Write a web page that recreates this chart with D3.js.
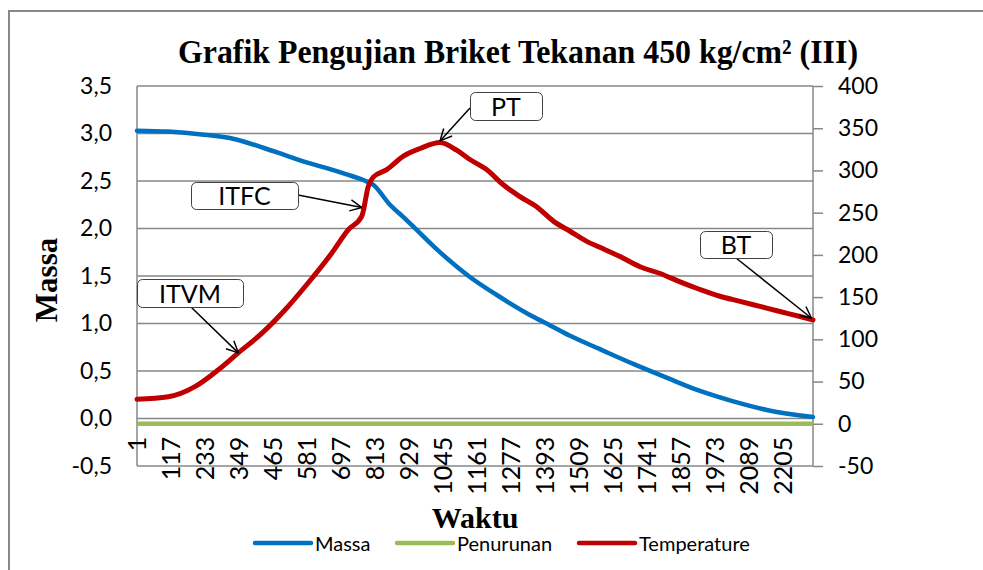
<!DOCTYPE html>
<html>
<head>
<meta charset="utf-8">
<script src="https://cdn.jsdelivr.net/npm/d3@7"></script>
<style>
  body { margin: 0; background: #fff; }
  svg { display: block; }
</style>
</head>
<body>
<script>
// Data
const lastIdx = 2310;

const massaIdx = [1, 108, 222, 336, 432, 518, 586, 649, 717, 774, 808, 865, 911, 945, 1029, 1138, 1230, 1343, 1412, 1480, 1582, 1696, 1810, 1924, 2038, 2152, 2310];
const massaVal = [3.03, 3.02, 2.99, 2.94, 2.85, 2.76, 2.69, 2.635, 2.57, 2.51, 2.46, 2.25, 2.12, 2.02, 1.77, 1.49, 1.30, 1.09, 0.98, 0.87, 0.73, 0.575, 0.43, 0.29, 0.18, 0.09, 0.015];

const penurunanIdx = [1, 2310];
const penurunanVal = [0, 0];

const tempIdx = [1, 108, 199, 279, 347, 427, 507, 586, 666, 723, 769, 791, 808, 854, 911, 968, 1036, 1093, 1138, 1195, 1252, 1309, 1366, 1423, 1480, 1537, 1582, 1651, 1719, 1788, 1856, 1924, 1992, 2061, 2129, 2197, 2266, 2310];
const tempVal = [29, 32, 44, 64, 84, 107, 135, 167, 202, 230, 246, 281, 292, 301, 317, 326, 333, 324, 313, 301, 283, 269, 257, 240, 228, 216, 209, 198, 186, 178, 168, 159, 151, 145, 139, 133, 127, 123];

const xTickLabels = [1, 117, 233, 349, 465, 581, 697, 813, 929, 1045, 1161, 1277, 1393, 1509, 1625, 1741, 1857, 1973, 2089, 2205];
const leftTicks = [-0.5, 0, 0.5, 1, 1.5, 2, 2.5, 3, 3.5];
const rightTicks = [-50, 0, 50, 100, 150, 200, 250, 300, 350, 400];

const noteLabels = ["ITVM", "ITFC", "PT", "BT"];
const noteIdx = [347, 769, 1036, 2305];
const noteTemp = [84, 256, 335, 125];

const seriesNames = ["Massa", "Penurunan", "Temperature"];
const seriesColors = ["#0070c0", "#9bbb59", "#c00000"];

// layout
const W = 983, H = 570;
const plot = { left: 137, right: 813, top: 86, bottom: 466 };
const boxes = [
  { x: 137, y: 279, w: 106, h: 28, sx: 191, sy: 307 },
  { x: 191, y: 182, w: 107, h: 27, sx: 298, sy: 195 },
  { x: 470, y: 92, w: 72, h: 28, sx: 470, sy: 108 },
  { x: 700, y: 231, w: 72, h: 27, sx: 736, sy: 258 }
];
const sansFont = "Lato, 'Open Sans', sans-serif";
const serifFont = "'Liberation Serif', 'DejaVu Serif', serif";
const gridColor = "#878787";

const fmt = d3.formatLocale({ decimal: ",", thousands: ".", grouping: [3], currency: ["", ""], minus: "-" });

const svg = d3.select("body").append("svg").attr("width", W).attr("height", H);

// outer border (only top and left visible)
svg.append("path")
  .attr("d", "M9,600 L9,11 L1000,11")
  .attr("fill", "none")
  .attr("stroke", gridColor)
  .attr("stroke-width", 2);

// scales
const x = d3.scaleLinear().domain([1, lastIdx]).range([plot.left, plot.right]);
const yL = d3.scaleLinear().domain([-0.5, 3.5]).range([plot.bottom, plot.top]);
const yR = d3.scaleLinear().domain([-50, 400]).range([plot.bottom, plot.top]);

// gridlines
svg.append("g")
  .selectAll("line")
  .data(leftTicks)
  .enter()
  .append("line")
  .attr("x1", plot.left)
  .attr("x2", plot.right)
  .attr("y1", (d) => yL(d))
  .attr("y2", (d) => yL(d))
  .attr("stroke", gridColor)
  .attr("stroke-width", 1.5);

// vertical axis lines
svg.append("line")
  .attr("x1", plot.left).attr("x2", plot.left)
  .attr("y1", plot.top).attr("y2", plot.bottom)
  .attr("stroke", gridColor).attr("stroke-width", 1.5);
svg.append("line")
  .attr("x1", plot.right).attr("x2", plot.right)
  .attr("y1", plot.top).attr("y2", plot.bottom)
  .attr("stroke", gridColor).attr("stroke-width", 1.5);

// left axis
const leftAxis = svg.append("g")
  .attr("transform", "translate(" + plot.left + ",0)")
  .call(d3.axisLeft(yL).tickValues(leftTicks).tickSize(0).tickPadding(25).tickFormat(fmt.format(".1f")));
leftAxis.select(".domain").remove();

// right axis
const rightAxis = svg.append("g")
  .attr("transform", "translate(" + plot.right + ",0)")
  .call(d3.axisRight(yR).tickValues(rightTicks).tickSize(10).tickPadding(15).tickFormat(fmt.format("d")));
rightAxis.select(".domain").remove();
rightAxis.selectAll(".tick line").attr("stroke", gridColor).attr("stroke-width", 1.5);

svg.selectAll(".tick text")
  .style("font-family", sansFont)
  .style("font-size", "23px")
  .attr("fill", "#000");

// bottom axis, rotated labels
const bottomAxis = svg.append("g")
  .attr("transform", "translate(0," + yR(0) + ")")
  .call(d3.axisBottom(x).tickValues(xTickLabels).tickSize(0).tickFormat((d) => d));
bottomAxis.select(".domain").remove();
bottomAxis.selectAll("text")
  .attr("x", -13)
  .attr("y", 0)
  .attr("dy", "0.35em")
  .attr("transform", "rotate(-90)")
  .style("text-anchor", "end")
  .style("font-family", sansFont)
  .style("font-size", "25px")
  .attr("fill", "#000");

// series
const lineL = d3.line().x((d) => x(d[0])).y((d) => yL(d[1])).curve(d3.curveMonotoneX);
const lineR = d3.line().x((d) => x(d[0])).y((d) => yR(d[1])).curve(d3.curveMonotoneX);

svg.append("path")
  .datum(massaIdx.map((d, i) => [d, massaVal[i]]))
  .attr("d", lineL)
  .attr("fill", "none")
  .attr("stroke", seriesColors[0])
  .attr("stroke-width", 4.5)
  .attr("stroke-linejoin", "round")
  .attr("stroke-linecap", "round");

svg.append("path")
  .datum(penurunanIdx.map((d, i) => [d, penurunanVal[i]]))
  .attr("d", lineR)
  .attr("fill", "none")
  .attr("stroke", seriesColors[1])
  .attr("stroke-width", 4.5);

svg.append("path")
  .datum(tempIdx.map((d, i) => [d, tempVal[i]]))
  .attr("d", lineR)
  .attr("fill", "none")
  .attr("stroke", seriesColors[2])
  .attr("stroke-width", 5)
  .attr("stroke-linejoin", "round")
  .attr("stroke-linecap", "round");

// annotations: callout boxes with arrows to the temperature curve
const notes = svg.append("g");
noteLabels.forEach((label, i) => {
  const b = boxes[i];
  const tx = x(noteIdx[i]);
  const ty = yR(noteTemp[i]);
  const ang = Math.atan2(ty - b.sy, tx - b.sx);
  const head = 13;

  notes.append("line")
    .attr("x1", b.sx).attr("y1", b.sy)
    .attr("x2", tx).attr("y2", ty)
    .attr("stroke", "#000").attr("stroke-width", 1.5);
  [-0.45, 0.45].forEach((da) => {
    notes.append("line")
      .attr("x1", tx).attr("y1", ty)
      .attr("x2", tx - head * Math.cos(ang + da))
      .attr("y2", ty - head * Math.sin(ang + da))
      .attr("stroke", "#000").attr("stroke-width", 1.5);
  });

  notes.append("rect")
    .attr("x", b.x + 0.5).attr("y", b.y + 0.5)
    .attr("width", b.w).attr("height", b.h)
    .attr("rx", 5)
    .attr("fill", "#fff")
    .attr("stroke", "#404040")
    .attr("stroke-width", 1);
  notes.append("text")
    .attr("x", b.x + b.w / 2)
    .attr("y", b.y + b.h / 2 + 1)
    .attr("dy", "0.35em")
    .attr("text-anchor", "middle")
    .style("font-family", sansFont)
    .style("font-size", "25px")
    .text(label);
});

// titles
svg.append("text")
  .attr("x", 518)
  .attr("y", 63)
  .attr("text-anchor", "middle")
  .attr("textLength", 680)
  .attr("lengthAdjust", "spacingAndGlyphs")
  .style("font-family", serifFont)
  .style("font-weight", "bold")
  .style("font-size", "34px")
  .text("Grafik Pengujian Briket Tekanan 450 kg/cm² (III)");

svg.append("text")
  .attr("transform", "translate(57,280) rotate(-90)")
  .attr("text-anchor", "middle")
  .style("font-family", serifFont)
  .style("font-weight", "bold")
  .style("font-size", "31px")
  .text("Massa");

svg.append("text")
  .attr("x", 475)
  .attr("y", 528)
  .attr("text-anchor", "middle")
  .style("font-family", serifFont)
  .style("font-weight", "bold")
  .style("font-size", "30px")
  .text("Waktu");

// legend
const legendX = [255, 397, 579];
const legendY = 543;
const legend = svg.append("g");
seriesNames.forEach((name, i) => {
  legend.append("line")
    .attr("x1", legendX[i]).attr("x2", legendX[i] + 56)
    .attr("y1", legendY).attr("y2", legendY)
    .attr("stroke", seriesColors[i])
    .attr("stroke-width", 4.5)
    .attr("stroke-linecap", "round");
  legend.append("text")
    .attr("x", legendX[i] + 60)
    .attr("y", legendY)
    .attr("dy", "0.38em")
    .style("font-family", sansFont)
    .style("font-size", "20px")
    .text(name);
});
</script>
</body>
</html>
